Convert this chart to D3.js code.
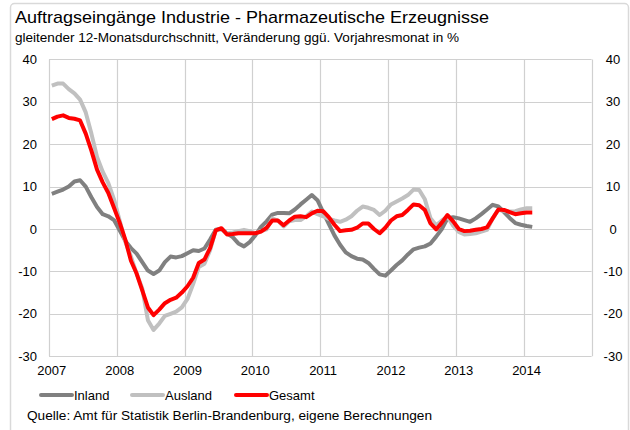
<!DOCTYPE html>
<html>
<head>
<meta charset="utf-8">
<script src="https://cdn.jsdelivr.net/npm/d3@7"></script>
<style>
  body { margin: 0; background: #fff; }
  svg { display: block; font-family: "Liberation Sans", Arial, sans-serif; }
</style>
</head>
<body>
<svg id="chart" width="630" height="430"></svg>
<script>
// monthly values, Jan 2007 .. Feb 2014 (12-month moving average, % vs. prior year)
var yearLabels = ["2007", "2008", "2009", "2010", "2011", "2012", "2013", "2014"];
var yTicks = [-30, -20, -10, 0, 10, 20, 30, 40];

var inland = [
  8.3, 8.8, 9.3, 10.0, 11.2, 11.5, 10.0, 7.5, 5.2, 3.5, 3.0, 2.1,
  -0.3, -2.8, -4.5, -5.8, -7.8, -9.8, -10.6, -9.8, -7.8, -6.5, -6.7, -6.4,
  -5.7, -5.0, -5.2, -4.6, -2.5, -0.2, 0.0, -1.0, -1.9, -3.4, -4.1, -3.1,
  -1.5, 0.5, 1.8, 3.4, 3.8, 3.8, 3.7, 4.6, 5.8, 6.9, 8.0, 6.8,
  4.0, 1.2, -1.5, -3.7, -5.5, -6.4, -7.0, -7.2, -8.0, -9.4, -10.7, -11.0,
  -9.8, -8.5, -7.4, -6.0, -4.8, -4.4, -4.1, -3.4, -1.8, 0.0, 2.5, 2.8,
  2.5, 2.1, 1.7, 2.5, 3.5, 4.6, 5.7, 5.3, 4.0, 2.6, 1.4, 1.0,
  0.7, 0.5
];

var ausland = [
  33.8, 34.3, 34.3, 33.0, 32.0, 30.5, 27.5, 22.5, 17.0, 13.5, 10.8, 7.0,
  2.0, -3.0, -6.5, -10.5, -14.0, -21.5, -23.8, -22.3, -20.5, -20.0, -19.5, -18.5,
  -16.5, -13.0, -9.0, -8.2, -5.0, -0.3, 0.0, -1.0, -0.8, -0.5, -0.2, -0.5,
  -1.0, -0.5, -0.1, 2.5, 2.0, 0.6, 1.8, 2.1, 2.1, 3.0, 4.1, 3.5,
  3.0, 2.4, 2.0, 1.7, 2.2, 3.0, 4.3, 5.3, 5.0, 4.5, 3.3, 4.3,
  5.8, 6.5, 7.2, 8.0, 9.3, 9.2, 7.0, 2.5, 0.9, 2.0, 2.9, 0.8,
  -0.7, -1.3, -1.2, -1.0, -0.6, -0.2, 2.5, 4.5, 4.3, 4.1, 4.2, 4.6,
  4.9, 4.9
];

var gesamt = [
  25.9, 26.5, 26.8, 26.2, 26.0, 25.6, 22.5, 18.5, 14.0, 11.0, 8.5, 5.0,
  1.5, -2.5, -7.5, -10.5, -14.5, -18.5, -20.3, -19.0, -17.5, -16.7, -16.2, -15.0,
  -13.5, -11.5, -8.0, -7.2, -4.5, -0.3, 0.2, -1.3, -1.2, -1.0, -1.0, -1.0,
  -1.0, -0.6, 0.3, 2.0, 2.0, 0.9, 2.0, 2.9, 3.0, 2.8, 3.7, 4.3,
  4.2, 2.8, 1.0, -0.5, -0.3, -0.2, 0.3, 1.3, 1.3, 0.0, -1.0, 0.3,
  2.0, 3.0, 3.3, 4.5, 5.8, 5.6, 4.5, 1.3, -0.1, 1.5, 3.3, 1.8,
  0.0, -0.5, -0.4, -0.2, 0.0, 0.4, 2.5, 4.6, 4.5, 4.0, 3.5, 3.7,
  3.9, 3.9
];

var seriesNames = ["Inland", "Ausland", "Gesamt"];
var seriesColors = ["#808080", "#c0c0c0", "#ff0000"];
var seriesData = [inland, ausland, gesamt];

var svg = d3.select("#chart");

// outer frame
svg.append("rect")
    .attr("x", 10.5).attr("y", 3.5)
    .attr("width", 618).attr("height", 440)
    .attr("rx", 4)
    .attr("fill", "none")
    .attr("stroke", "#d9d9d9")
    .attr("stroke-width", 1.5);

// titles
svg.append("text")
    .attr("x", 15).attr("y", 23)
    .attr("font-size", 17)
    .attr("fill", "#000")
    .attr("textLength", 474)
    .attr("lengthAdjust", "spacingAndGlyphs")
    .text("Auftragseingänge Industrie - Pharmazeutische Erzeugnisse");

svg.append("text")
    .attr("x", 15).attr("y", 42)
    .attr("font-size", 12.5)
    .attr("fill", "#000")
    .attr("textLength", 444)
    .attr("lengthAdjust", "spacingAndGlyphs")
    .text("gleitender 12-Monatsdurchschnitt, Veränderung ggü. Vorjahresmonat in %");

var plotLeft = 49, plotRight = 591.6, plotTop = 59.4, plotBottom = 356.2;

var x = d3.scaleLinear().domain([0, 96]).range([plotLeft, plotRight]);
var y = d3.scaleLinear().domain([-30, 40]).range([plotBottom, plotTop]);

var grid = svg.append("g");

grid.selectAll("line.h")
    .data(yTicks)
    .join("line")
    .attr("class", "h")
    .attr("x1", plotLeft).attr("x2", plotRight)
    .attr("y1", d => Math.round(y(d)) + 0.5)
    .attr("y2", d => Math.round(y(d)) + 0.5)
    .attr("stroke", "#d0d0d0")
    .attr("stroke-width", 1.2);

var yearIdx = d3.range(0, 9).map(k => k * 12);
grid.selectAll("line.v")
    .data(yearIdx)
    .join("line")
    .attr("class", "v")
    .attr("x1", d => Math.round(x(d)) + 0.5)
    .attr("x2", d => Math.round(x(d)) + 0.5)
    .attr("y1", plotTop).attr("y2", plotBottom)
    .attr("stroke", "#d0d0d0")
    .attr("stroke-width", 1.2);

// left axis labels
svg.append("g").selectAll("text")
    .data(yTicks)
    .join("text")
    .attr("x", 37)
    .attr("y", d => y(d))
    .attr("dy", "0.35em")
    .attr("text-anchor", "end")
    .attr("font-size", 13)
    .text(d => d);

// right axis labels
svg.append("g").selectAll("text")
    .data(yTicks)
    .join("text")
    .attr("x", 613)
    .attr("y", d => y(d))
    .attr("dy", "0.35em")
    .attr("text-anchor", "middle")
    .attr("font-size", 13)
    .text(d => d);

// x labels at January of each year
svg.append("g").selectAll("text")
    .data(yearLabels)
    .join("text")
    .attr("x", (d, i) => x(i * 12 + 0.5))
    .attr("y", 370)
    .attr("dy", "0.35em")
    .attr("text-anchor", "middle")
    .attr("font-size", 13)
    .text(d => d);

// series
var line = d3.line()
    .x((d, i) => x(i + 0.5))
    .y(d => y(d))
    .curve(d3.curveLinear);

svg.append("g").selectAll("path")
    .data(seriesData)
    .join("path")
    .attr("d", d => line(d))
    .attr("fill", "none")
    .attr("stroke", (d, i) => seriesColors[i])
    .attr("stroke-width", 4)
    .attr("stroke-linejoin", "round");

// legend
var legendX = [41, 132, 236];
var legend = svg.append("g").selectAll("g")
    .data(seriesNames)
    .join("g")
    .attr("transform", (d, i) => "translate(" + legendX[i] + ",395)");

legend.append("line")
    .attr("x1", 0).attr("x2", 31)
    .attr("y1", 0).attr("y2", 0)
    .attr("stroke", (d, i) => seriesColors[i])
    .attr("stroke-width", 4)
    .attr("stroke-linecap", "round");

legend.append("text")
    .attr("x", 33)
    .attr("y", 0)
    .attr("dy", "0.35em")
    .attr("font-size", 13)
    .text(d => d);

// source
svg.append("text")
    .attr("x", 27).attr("y", 420)
    .attr("font-size", 12.5)
    .attr("textLength", 405)
    .attr("lengthAdjust", "spacingAndGlyphs")
    .text("Quelle: Amt für Statistik Berlin-Brandenburg, eigene Berechnungen");
</script>
</body>
</html>
